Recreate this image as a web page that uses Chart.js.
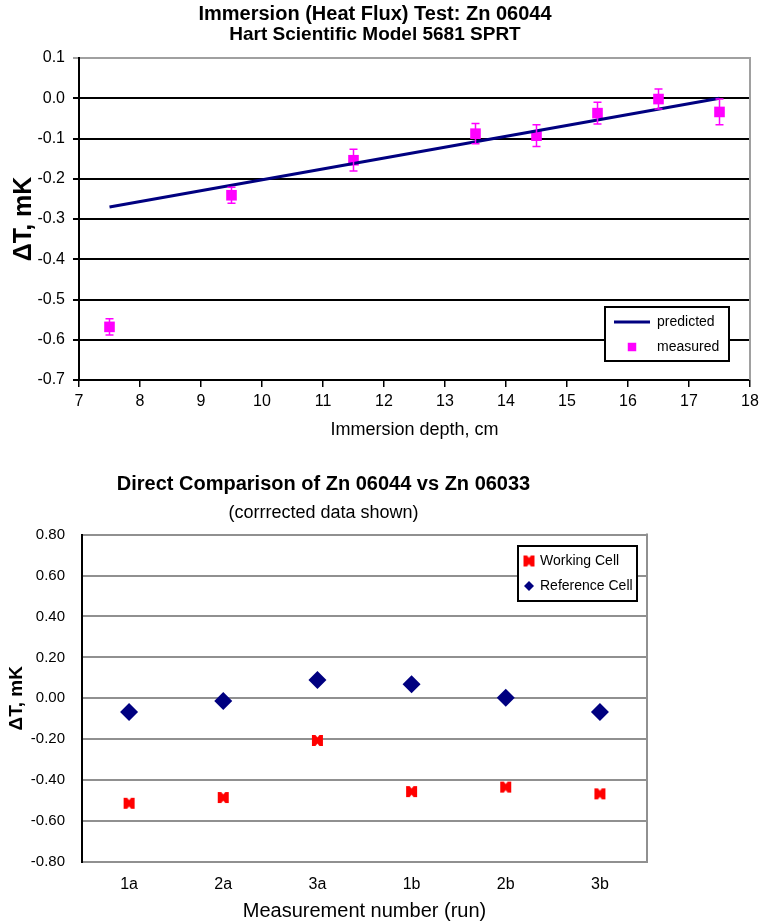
<!DOCTYPE html>
<html>
<head>
<meta charset="utf-8">
<script src="https://cdn.jsdelivr.net/npm/chart.js@4.4.1/dist/chart.umd.min.js"></script>
<style>
html,body{margin:0;padding:0;background:#fff;}
#wrap{position:relative;width:761px;height:923px;overflow:hidden;}
#c1{position:absolute;left:0;top:0;}
#c2{position:absolute;left:0;top:450px;}
</style>
</head>
<body>
<div id="wrap">
<canvas id="c1" width="761" height="450"></canvas>
<canvas id="c2" width="761" height="473"></canvas>
</div>
<script>
// ---------- Data: top chart (immersion test) ----------
const depthMeasured = [7.5, 9.5, 11.5, 13.5, 14.5, 15.5, 16.5, 17.5];
const dTMeasured    = [-0.568, -0.241, -0.154, -0.088, -0.093, -0.037, -0.002, -0.034];
const dTError       = [0.02, 0.02, 0.027, 0.025, 0.027, 0.027, 0.025, 0.032];
const depthPredicted = [7.5, 17.5];
const dTPredicted    = [-0.27, 0.0];

// ---------- Data: bottom chart (direct comparison) ----------
const runLabels     = ['1a', '2a', '3a', '1b', '2b', '3b'];
const workingCell   = [-0.513, -0.485, -0.206, -0.456, -0.434, -0.467];
const referenceCell = [-0.067, -0.013, 0.090, 0.069, 0.003, -0.067];

const FONT = "'Liberation Sans',Arial,Helvetica,sans-serif";
Chart.defaults.font.family = FONT;
Chart.defaults.color = '#000';
Chart.defaults.animation = false;

// error bar plugin
const errorBars = {
  id: 'errorBars',
  afterDatasetsDraw(chart) {
    const ctx = chart.ctx;
    chart.data.datasets.forEach((ds, di) => {
      if (!ds.errors) return;
      const meta = chart.getDatasetMeta(di);
      const ys = chart.scales[meta.yAxisID];
      ctx.save();
      ctx.strokeStyle = ds.borderColor;
      ctx.lineWidth = 1.5;
      meta.data.forEach((pt, i) => {
        const v = ds.data[i].y, e = ds.errors[i];
        const yTop = ys.getPixelForValue(v + e), yBot = ys.getPixelForValue(v - e);
        const x = pt.x;
        ctx.beginPath();
        ctx.moveTo(x, yTop); ctx.lineTo(x, yBot);
        ctx.moveTo(x - 4, yTop); ctx.lineTo(x + 4, yTop);
        ctx.moveTo(x - 4, yBot); ctx.lineTo(x + 4, yBot);
        ctx.stroke();
      });
      ctx.restore();
    });
  }
};

// frame plugin: right border of the plot area
const frame = {
  id: 'frame',
  afterDatasetsDraw(chart, args, opts) {
    const {ctx, chartArea: a} = chart;
    ctx.save();
    ctx.strokeStyle = opts.color || '#999';
    ctx.lineWidth = 2;
    ctx.beginPath();
    ctx.moveTo(a.right, a.top - 1); ctx.lineTo(a.right, a.bottom);
    ctx.stroke();
    ctx.restore();
  }
};

// boxed legend plugin drawn inside plot area
const boxLegend = {
  id: 'boxLegend',
  afterDraw(chart, args, o) {
    if (!o || !o.display) return;
    const ctx = chart.ctx;
    ctx.save();
    ctx.fillStyle = '#fff';
    ctx.fillRect(o.x, o.y, o.w, o.h);
    ctx.strokeStyle = '#000';
    ctx.lineWidth = 2;
    ctx.strokeRect(o.x, o.y, o.w, o.h);
    ctx.font = o.font;
    ctx.textBaseline = 'middle';
    chart.data.datasets.forEach((ds, i) => {
      const cy = o.y + o.rows[i];
      if (ds.showLine) {
        ctx.strokeStyle = ds.borderColor;
        ctx.lineWidth = ds.borderWidth;
        ctx.beginPath();
        ctx.moveTo(o.x + o.lineX0, cy); ctx.lineTo(o.x + o.lineX1, cy);
        ctx.stroke();
      } else {
        ctx.fillStyle = ds.backgroundColor;
        ctx.strokeStyle = ds.backgroundColor;
        Chart.helpers.drawPoint(ctx, {
          pointStyle: ds.pointStyle, radius: o.markerR[i], rotation: 0, borderWidth: 0
        }, o.x + o.markerX, cy);
      }
      ctx.fillStyle = '#000';
      ctx.fillText(ds.label, o.x + o.textX, cy);
    });
    ctx.restore();
  }
};

// --- Top chart ---
new Chart(document.getElementById('c1'), {
  type: 'scatter',
  data: {
    datasets: [
      {
        label: 'predicted',
        type: 'line',
        data: depthPredicted.map((x, i) => ({x, y: dTPredicted[i]})),
        borderColor: '#000080', backgroundColor: '#000080',
        borderWidth: 3, pointRadius: 0, showLine: true, fill: false
      },
      {
        label: 'measured',
        data: depthMeasured.map((x, i) => ({x, y: dTMeasured[i]})),
        errors: dTError,
        pointStyle: 'rect', pointRadius: 7.5,
        backgroundColor: '#ff00ff', borderColor: '#ff00ff', borderWidth: 0,
        showLine: false
      }
    ]
  },
  options: {
    responsive: false,
    layout: {padding: {left: 0, right: 11, top: 0, bottom: 0}},
    plugins: {
      legend: {display: false},
      tooltip: {enabled: false},
      title: {display: true, text: 'Immersion (Heat Flux) Test: Zn 06044',
        font: {size: 20, weight: 'bold', lineHeight: 1.0}, padding: {top: 4, bottom: 0}, color: '#000'},
      subtitle: {display: true, text: 'Hart Scientific Model 5681 SPRT',
        font: {size: 19, weight: 'bold', lineHeight: 1.0}, padding: {top: 1, bottom: 14}, color: '#000'},
      frame: {color: '#a0a0a0'},
      boxLegend: {display: true, x: 605, y: 307, w: 124, h: 54,
        rows: [15, 40], lineX0: 9, lineX1: 45, markerX: 27, markerR: [0, 6], textX: 52,
        font: "14px " + FONT}
    },
    scales: {
      x: {
        type: 'linear', min: 7, max: 18,
        ticks: {stepSize: 1, font: {size: 16}, padding: 5, color: '#000'},
        grid: {drawOnChartArea: false, drawTicks: true, tickLength: 7, color: '#000', lineWidth: 1.5},
        border: {color: '#000', width: 2},
        title: {display: true, text: 'Immersion depth, cm', font: {size: 18}, padding: {bottom: 9, top: 0}, color: '#000'},
        afterFit(s) { s.height = 70; s.paddingLeft = 0; s.paddingRight = 0; }
      },
      y: {
        min: -0.7, max: 0.1,
        ticks: {stepSize: 0.1, font: {size: 16}, padding: 8, color: '#000',
          callback: v => (Math.abs(v) < 1e-9 ? 0 : v).toFixed(1)},
        grid: {color: c => (c.tick && Math.abs(c.tick.value - 0.1) < 1e-6 ? '#a0a0a0' : '#000'),
          lineWidth: 2, tickLength: 6, drawTicks: true},
        border: {color: '#000', width: 2},
        title: {display: true, text: 'ΔT, mK', font: {size: 25, weight: 'bold'}, padding: {top: 9}, color: '#000'},
        afterFit(s) { s.width = 79; }
      }
    }
  },
  plugins: [errorBars, frame, boxLegend]
});

// --- Bottom chart ---
const workingMarker = (() => {
  const c = document.createElement('canvas');
  c.width = 13; c.height = 13;
  const g = c.getContext('2d');
  g.fillStyle = '#ff0000';
  g.fillRect(1, 1, 11, 11);
  g.fillStyle = '#ffffff';
  g.beginPath(); g.moveTo(4.5, 1); g.lineTo(8.5, 1); g.lineTo(6.5, 3.5); g.closePath(); g.fill();
  g.beginPath(); g.moveTo(4.5, 12); g.lineTo(8.5, 12); g.lineTo(6.5, 9.5); g.closePath(); g.fill();
  return c;
})();

new Chart(document.getElementById('c2'), {
  type: 'line',
  data: {
    labels: runLabels,
    datasets: [
      {
        label: 'Working Cell', data: workingCell, showLine: false,
        pointStyle: workingMarker, pointRadius: 6,
        backgroundColor: '#ff0000', borderColor: '#ff0000'
      },
      {
        label: 'Reference Cell', data: referenceCell, showLine: false,
        pointStyle: 'rectRot', pointRadius: 9,
        backgroundColor: '#000080', borderColor: '#000080', borderWidth: 0
      }
    ]
  },
  options: {
    responsive: false,
    layout: {padding: {left: 0, right: 114, top: 0, bottom: 0}},
    plugins: {
      legend: {display: false},
      tooltip: {enabled: false},
      title: {display: true, text: 'Direct Comparison of Zn 06044 vs Zn 06033',
        font: {size: 20, weight: 'bold'}, padding: {top: 22, bottom: 0}, color: '#000'},
      subtitle: {display: true, text: '(corrrected data shown)',
        font: {size: 18, weight: 'normal'}, padding: {top: 6, bottom: 11}, color: '#000'},
      frame: {color: '#909090'},
      boxLegend: {display: true, x: 518, y: 96, w: 119, h: 55,
        rows: [15, 40], markerX: 11, markerR: [6, 5], textX: 22,
        font: "14px " + FONT}
    },
    scales: {
      x: {
        offset: true,
        ticks: {font: {size: 16}, padding: 13, color: '#000'},
        grid: {display: false, drawTicks: false},
        border: {color: '#909090', width: 2},
        title: {display: true, text: 'Measurement number (run)', font: {size: 20}, padding: {bottom: 0, top: 0}, color: '#000'},
        afterFit(s) { s.height = 61; }
      },
      y: {
        min: -0.8, max: 0.8,
        ticks: {stepSize: 0.2, font: {size: 15}, padding: 17, color: '#000',
          callback: v => (Math.abs(v) < 1e-9 ? 0 : v).toFixed(2)},
        grid: {color: '#909090', lineWidth: 2, drawTicks: false},
        border: {color: '#000', width: 2},
        title: {display: true, text: 'ΔT, mK', font: {size: 19, weight: 'bold'}, padding: {top: 5}, color: '#000'},
        afterFit(s) { s.width = 82; }
      }
    }
  },
  plugins: [frame, boxLegend]
});
</script>
</body>
</html>
